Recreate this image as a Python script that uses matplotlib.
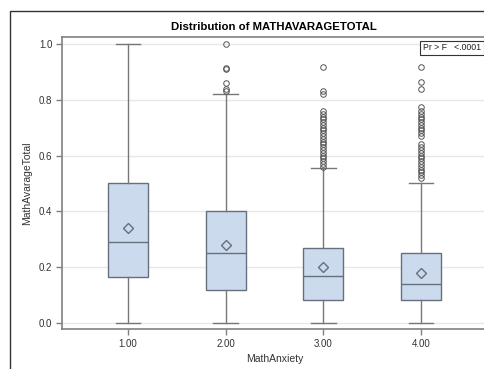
import matplotlib
matplotlib.use('Agg')
import matplotlib.pyplot as plt
from matplotlib.patches import Rectangle

plt.rcParams['font.family'] = ['Liberation Sans', 'DejaVu Sans']

# box statistics
groups = ['1.00', '2.00', '3.00', '4.00']
whislo = [0.0, 0.0, 0.0, 0.0]
q1 = [0.165, 0.12, 0.083, 0.083]
med = [0.292, 0.25, 0.167, 0.14]
q3 = [0.50, 0.40, 0.27, 0.25]
whishi = [1.0, 0.82, 0.555, 0.50]
means = [0.34, 0.28, 0.20, 0.18]
fliers = [
    [],
    [0.833, 0.84, 0.86, 0.91, 0.915, 1.0],
    [0.56, 0.57, 0.58, 0.59, 0.60, 0.61, 0.62, 0.63, 0.64, 0.65, 0.66,
     0.67, 0.68, 0.69, 0.70, 0.71, 0.72, 0.73, 0.74, 0.75, 0.76,
     0.82, 0.833, 0.917],
    [0.52, 0.53, 0.54, 0.55, 0.56, 0.57, 0.58, 0.59, 0.60, 0.61, 0.62,
     0.63, 0.64, 0.67, 0.68, 0.69, 0.70, 0.71, 0.72, 0.73, 0.74, 0.75,
     0.76, 0.775, 0.84, 0.864, 0.917],
]
yticks = [0.0, 0.2, 0.4, 0.6, 0.8, 1.0]

stats = []
for i in range(len(groups)):
    stats.append(dict(label=groups[i], whislo=whislo[i], q1=q1[i], med=med[i],
                      q3=q3[i], whishi=whishi[i], mean=means[i], fliers=fliers[i]))

fig = plt.figure(figsize=(4.85, 3.69), dpi=100)
ax = fig.add_axes([62 / 485, 1 - 329 / 369, 425 / 485, 292 / 369])

edge = '#66707c'
ax.bxp(stats, positions=[1, 2, 3, 4], widths=0.41, capwidths=0.25,
       showmeans=True, patch_artist=True,
       boxprops=dict(facecolor='#cbdaec', edgecolor=edge, linewidth=1),
       medianprops=dict(color=edge, linewidth=1),
       whiskerprops=dict(color='#777777', linewidth=1),
       capprops=dict(color='#777777', linewidth=1),
       flierprops=dict(marker='o', markerfacecolor='none', markeredgecolor='#555555',
                       markersize=4, markeredgewidth=0.7),
       meanprops=dict(marker='D', markerfacecolor='none', markeredgecolor=edge,
                      markersize=5, markeredgewidth=1))

ax.set_xlim(0.325, 4.675)
ax.set_ylim(-0.0215, 1.025)
ax.set_yticks(yticks)
ax.set_yticklabels(['%.1f' % v for v in yticks])
ax.yaxis.grid(True, color='#e8e8e8', linewidth=1)
ax.set_axisbelow(True)
for s in ['left', 'bottom', 'top', 'right']:
    ax.spines[s].set_color('#808080')
    ax.spines[s].set_linewidth(1.2)
ax.tick_params(direction='out', length=4, width=1, color='#808080',
               labelsize=7, labelcolor='#333333', pad=3)
ax.set_xlabel('MathAnxiety', fontsize=7.5, color='#333333', labelpad=4)
ax.set_ylabel('MathAvarageTotal', fontsize=7.5, color='#333333', labelpad=5)

fig.text(274 / 485, 1 - 27 / 369, 'Distribution of MATHAVARAGETOTAL',
         ha='center', va='center', fontsize=8.2, fontweight='bold')
fig.text(481 / 485, 1 - 48 / 369, 'Pr > F   <.0001', ha='right', va='center',
         fontsize=6.3, color='#222222',
         bbox=dict(boxstyle='square,pad=0.3', fc='white', ec='#333333', lw=0.8))

# outer frame, cut off at right and bottom
fig.patches.append(Rectangle((10.5 / 485, -0.1), 2, 1.1 - 11 / 369,
                             transform=fig.transFigure, fill=False,
                             edgecolor='#333333', linewidth=1))

fig.savefig('out.png', dpi=100)
